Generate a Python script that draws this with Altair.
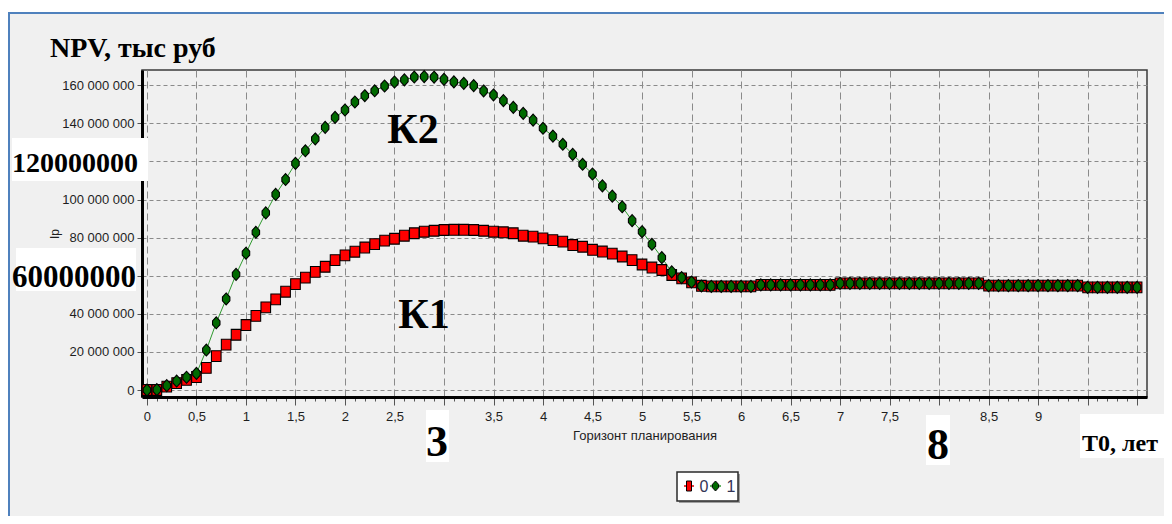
import altair as alt
import pandas as pd

# ---------------- data ----------------
t_years = [round(i * 0.1, 1) for i in range(101)]

# K1 (series "0", red squares), millions of roubles
k1_mln = [0, 0, 1.8, 3.6, 5.3, 6.8, 11.6, 17.8, 23.8, 29.0,
          34.1, 38.9, 43.4, 47.6, 51.6, 55.6, 59.0, 62.0, 64.7, 68.2,
          70.7, 72.6, 74.8, 76.6, 78.4, 79.4, 81.0, 82.3, 83.1, 83.6,
          84.0, 84.1, 84.1, 84.0, 83.6, 83.1, 82.8, 82.3, 81.0, 80.5,
          79.6, 78.7, 77.9, 76.1, 75.2, 73.6, 72.7, 71.6, 70.1, 68.2,
          65.9, 64.3, 63.0, 60.4, 58.6, 56.5, 54.7,
          54.4, 54.4, 54.4, 54.4, 54.4,
          55.2, 55.2, 55.2, 55.2, 55.2, 55.2, 55.2, 55.2,
          56.0, 56.0, 56.0, 56.0, 56.0, 56.0, 56.0, 56.0, 56.0, 56.0, 56.0, 56.0, 56.0, 56.0, 56.0,
          54.8, 54.8, 54.8, 54.8, 54.8, 54.8, 54.8, 54.8, 54.8, 54.8,
          53.9, 53.9, 53.9, 53.9, 53.9, 53.9]

# K2 (series "1", green diamonds), millions of roubles
k2_mln = [0, 0.2, 2.3, 4.7, 6.7, 8.7, 21.0, 35.3, 47.8, 60.7,
          71.8, 82.8, 93.0, 102.7, 110.5, 119.0, 125.6, 131.8, 137.9, 143.1,
          147.0, 151.2, 154.5, 157.1, 159.6, 161.7, 162.8, 164.3, 164.5, 164.2,
          163.1, 161.8, 161.0, 159.8, 157.0, 154.9, 151.9, 148.4, 145.2, 141.7,
          137.4, 133.3, 129.0, 123.7, 118.5, 113.4, 107.2, 101.8, 96.2, 88.9,
          83.1, 76.5, 69.5, 62.0, 59.0, 56.7, 54.6,
          54.4, 54.4, 54.4, 54.4, 54.4,
          55.2, 55.2, 55.2, 55.2, 55.2, 55.2, 55.2, 55.2,
          56.0, 56.0, 56.0, 56.0, 56.0, 56.0, 56.0, 56.0, 56.0, 56.0, 56.0, 56.0, 56.0, 56.0, 56.0,
          54.8, 54.8, 54.8, 54.8, 54.8, 54.8, 54.8, 54.8, 54.8, 54.8,
          53.9, 53.9, 53.9, 53.9, 53.9, 53.9]

series_names = ["0", "1"]
y_tick_values = [0, 20e6, 40e6, 60e6, 80e6, 100e6, 120e6, 140e6, 160e6]

rows = []
for s, vals in zip(series_names, [k1_mln, k2_mln]):
    for t, v in zip(t_years, vals):
        rows.append({"t": t, "v": v * 1e6, "series": s})
df = pd.DataFrame(rows)
dummy = pd.DataFrame({"a": [0]})

# ---------------- styling ----------------
W, H = 1005, 327
SANS = "Liberation Sans, Arial, sans-serif"
SERIF = "Liberation Serif, Times New Roman, serif"
diamond = "M0,-1L0.62,-0.32L0.62,0.32L0,1L-0.62,0.32L-0.62,-0.32Z"
rect_sym = "M-0.8,-0.9L0.8,-0.9L0.8,0.9L-0.8,0.9Z"
RED, GREEN, GREEN_LINE, RED_LINE = "#ff0000", "#006a00", "#2f9a2f", "#e00000"

major = "abs(datum.value*2 - round(datum.value*2)) < 0.01"

x_scale = alt.Scale(domain=[-0.05, 10.1], nice=False, zero=False)
y_scale = alt.Scale(domain=[-3.67e6, 168e6], nice=False, zero=False)

x_axis = alt.Axis(
    values=t_years,
    title="Горизонт планирования",
    labelExpr="(" + major + " && abs(datum.value-3)>0.01 && abs(datum.value-8)>0.01 && datum.value < 9.4)"
              " ? replace(format(datum.value, '.1~f'), '.', ',') : ''",
    labelOverlap=False, labelFlush=False, labelBound=False,
    gridOpacity={"condition": {"test": major, "value": 1}, "value": 0},
    tickSize={"condition": {"test": major, "value": 8}, "value": 4},
    gridDash=[7, 4], gridColor="#8a8a8a", gridWidth=1,
    tickColor="#555555", tickWidth=1,
    domainColor="black", domainWidth=3,
    labelFont=SANS, labelFontSize=13, labelColor="#1e1e1e", labelPadding=5,
    titleFont=SANS, titleFontSize=13, titleFontWeight="normal", titleColor="#1e1e1e",
    titlePadding=6,
)
y_axis = alt.Axis(
    values=y_tick_values,
    title="Ip",
    labelExpr="(datum.value == 60000000 || datum.value == 120000000) ? '' : "
              "replace(format(datum.value, ','), regexp(',', 'g'), ' ')",
    gridDash=[4, 3], gridColor="#8a8a8a", gridWidth=1,
    tickSize=5, tickColor="#555555",
    domainColor="black", domainWidth=3,
    labelFont=SANS, labelFontSize=13, labelColor="#1e1e1e", labelPadding=3,
    titleFont=SANS, titleFontSize=12, titleFontWeight="normal", titleColor="#1e1e1e",
    titlePadding=0,
)

lines = alt.Chart(df).mark_line(strokeWidth=1).encode(
    x=alt.X("t:Q", scale=x_scale, axis=x_axis),
    y=alt.Y("v:Q", scale=y_scale, axis=y_axis),
    stroke=alt.Stroke("series:N", scale=alt.Scale(domain=series_names, range=[RED_LINE, GREEN_LINE]), legend=None),
    detail="series:N",
)

points = alt.Chart(df).mark_point(filled=True, opacity=1, stroke="black", strokeWidth=1.1, size=144).encode(
    x=alt.X("t:Q", scale=x_scale, axis=x_axis),
    y=alt.Y("v:Q", scale=y_scale, axis=y_axis),
    fill=alt.Fill("series:N", scale=alt.Scale(domain=series_names, range=[RED, GREEN]), legend=None),
    shape=alt.Shape("series:N", scale=alt.Scale(domain=series_names, range=[rect_sym, diamond]), legend=None),
)


def box(x, x2, y, y2, color="white", stroke=None, sw=1):
    kw = dict(color=color)
    if stroke:
        kw.update(stroke=stroke, strokeWidth=sw)
    return alt.Chart(dummy).mark_rect(**kw).encode(
        x=alt.value(x), x2=alt.value(x2), y=alt.value(y), y2=alt.value(y2))


def label(text, x, y, size, align="center", font=SERIF, weight="bold", color="black"):
    return alt.Chart(dummy).mark_text(
        text=text, font=font, fontWeight=weight, fontSize=size, align=align,
        baseline="alphabetic", color=color).encode(x=alt.value(x), y=alt.value(y))


def seg(x, x2, y, color):
    return alt.Chart(dummy).mark_rule(color=color, strokeWidth=1.5).encode(
        x=alt.value(x), x2=alt.value(x2), y=alt.value(y))


def sym(x, y, shape, fill, size):
    return alt.Chart(dummy).mark_point(shape=shape, filled=True, fill=fill, opacity=1,
                                       stroke="black", strokeWidth=1, size=size).encode(
        x=alt.value(x), y=alt.value(y))


frame_top_white = box(-134, 1022, -62, -58)
frame_top = alt.Chart(dummy).mark_rule(color="#4f81bd", strokeWidth=2).encode(
    x=alt.value(-134), x2=alt.value(1022), y=alt.value(-57))
frame_left = alt.Chart(dummy).mark_rule(color="#4f81bd", strokeWidth=2).encode(
    x=alt.value(-133), y=alt.value(-57), y2=alt.value(446))

legend_layers = [
    box(537, 598, 404, 433, color="#a0a0a0"),
    box(535, 596, 402, 431, color="white", stroke="#2a2a2a", sw=1.5),
    seg(542, 552, 416, RED_LINE),
    sym(547, 416, "M-0.5,-1L0.5,-1L0.5,1L-0.5,1Z", RED, 100),
    label("0", 562, 422, 16, font=SANS, weight="normal", color="#333355"),
    seg(568, 579, 416, GREEN_LINE),
    sym(573.5, 416, diamond, GREEN, 100),
    label("1", 589, 422, 16, font=SANS, weight="normal", color="#333355"),
]

layers = [
    frame_top_white, frame_top, frame_left,
    lines, points,
    box(-130, 6, 68, 111), box(-126, -6, 178, 221),
    box(284, 307, 340, 392), box(784, 808, 345, 395), box(938, 1022, 344, 388),
    label("NPV, тыс руб", -92, -13, 28, align="left"),
    label("120000000", -67, 102, 28),
    label("60000000", -68, 217, 31),
    label("К2", 271, 73, 42),
    label("К1", 282, 258, 42),
    label("3", 295, 386, 44),
    label("8", 796, 389, 44),
    label("T0, лет", 940, 381, 24, align="left"),
] + legend_layers

chart = alt.layer(*layers).properties(
    width=W, height=H,
    padding={"left": 134, "top": 62, "right": 17, "bottom": 119},
    autosize=alt.AutoSizeParams(type="none"),
    background="#F0F0F0",
).configure_view(stroke="#3a3a3a", strokeWidth=1.5, fill="#F0F0F0")

chart.save("out.html", embed_options={"renderer": "svg", "actions": False})
